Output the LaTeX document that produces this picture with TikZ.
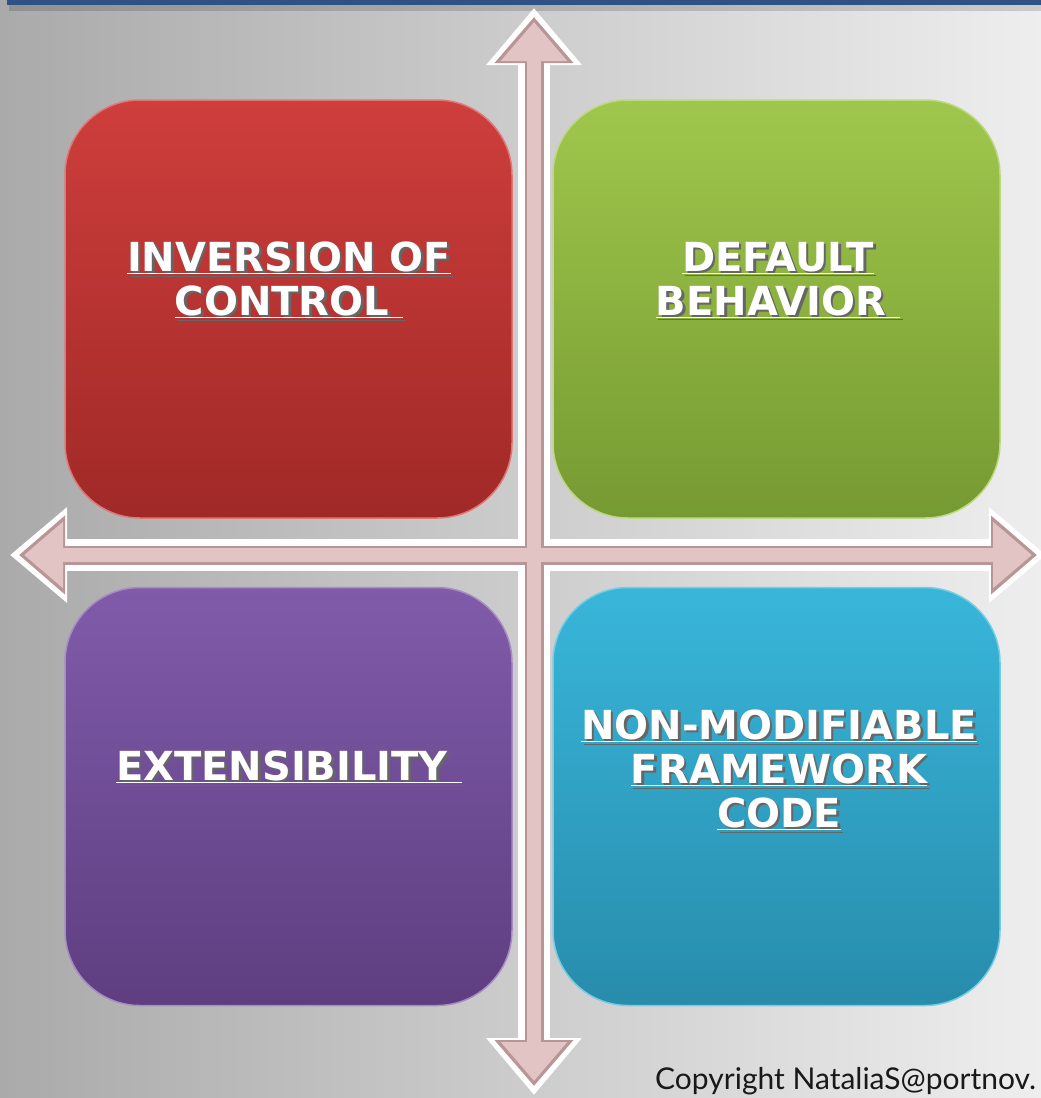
\documentclass[tikz,border=0pt]{standalone}
\usepackage{fontspec}
\setmainfont{DejaVu Sans}
\newfontfamily\copyfont{Lato}
\usepackage{tikz}
\usetikzlibrary{arrows.meta,positioning}

\definecolor{bgleft}{RGB}{170,170,170}
\definecolor{bgright}{RGB}{238,238,238}
\definecolor{barblue}{RGB}{45,82,131}
\definecolor{redtop}{RGB}{206,62,60}
\definecolor{redbot}{RGB}{160,41,39}
\definecolor{greentop}{RGB}{160,199,76}
\definecolor{greenbot}{RGB}{118,154,50}
\definecolor{purpletop}{RGB}{128,91,170}
\definecolor{purplebot}{RGB}{94,62,128}
\definecolor{bluetop}{RGB}{56,182,218}
\definecolor{bluebot}{RGB}{40,140,172}
\definecolor{darkrose}{RGB}{184,150,150}
\definecolor{lightrose}{RGB}{226,196,196}

% white caption with a dark drop shadow
\newcommand\shad[1]{\leavevmode\rlap{\kern2.5pt\raisebox{-2.5pt}{\color{black!60}#1}}#1}

\begin{document}
\begin{tikzpicture}[x=1pt,y=-1pt]
  \tikzstyle{quad}=[rounded corners=75pt, minimum width=447pt, minimum height=418pt, inner sep=0pt, line width=1.5pt]
  \tikzstyle{caption}=[text=white, inner sep=0pt, align=center, font=\bfseries\fontsize{40}{44}\selectfont]
  \tikzstyle{halo}=[line width=32pt, white, {Triangle[length=57pt,width=92pt]}-{Triangle[length=57pt,width=92pt]}]
  \tikzstyle{rim}=[line width=19pt, darkrose, shorten <=9pt, shorten >=9pt, {Triangle[length=46pt,width=76pt]}-{Triangle[length=46pt,width=76pt]}]
  \tikzstyle{core}=[line width=14pt, lightrose, shorten <=14pt, shorten >=14pt, {Triangle[length=39pt,width=64pt]}-{Triangle[length=39pt,width=64pt]}]

  \useasboundingbox (0,0) rectangle (1041,1098);
  \shade[left color=bgleft, right color=bgright] (0,0) rectangle (1041,1098);
  \fill[black, opacity=0.15] (9,5) rectangle (1041,11);
  \fill[barblue] (7,0) rectangle (1041,5);

  \node[quad, top color=redtop, bottom color=redbot, draw=redtop!70!white] (ioc) at (288.5,309) {};
  \node[quad, top color=greentop, bottom color=greenbot, draw=greentop!70!white] (dflt) at (776.5,309) {};
  \node[quad, top color=purpletop, bottom color=purplebot, draw=purpletop!70!white] (ext) at (288.5,796.5) {};
  \node[quad, top color=bluetop, bottom color=bluebot, draw=bluetop!70!white] (frmw) at (776.5,796.5) {};

  \node[caption] (ioc-text) at (289,281) {\shad{\underline{INVERSION OF}}\\\shad{\underline{CONTROL\ }}};
  \node[caption] (dflt-text) at (778,281) {\shad{\underline{DEFAULT}}\\\shad{\underline{BEHAVIOR\ }}};
  \node[caption] (ext-text) at (289,768) {\shad{\underline{EXTENSIBILITY\ }}};
  \node[caption] (frmw-text) at (779,771) {\shad{\underline{NON-MODIFIABLE}}\\\shad{\underline{FRAMEWORK}}\\\shad{\underline{CODE}}};

  \coordinate (up) at (534,8);
  \coordinate (down) at (534,1095);
  \coordinate (left) at (10,555);
  \coordinate (right) at (1046,555);

  \draw[halo] (up) -- (down);
  \draw[halo] (left) -- (right);
  \draw[rim] (up) -- (down);
  \draw[rim] (left) -- (right);
  \draw[core] (up) -- (down);
  \draw[core] (left) -- (right);

  \node[anchor=base west, inner sep=0pt, text=black!90, font=\copyfont\fontsize{30}{34}\selectfont] (copy) at (655,1089) {Copyright NataliaS@portnov.};
\end{tikzpicture}
\end{document}
